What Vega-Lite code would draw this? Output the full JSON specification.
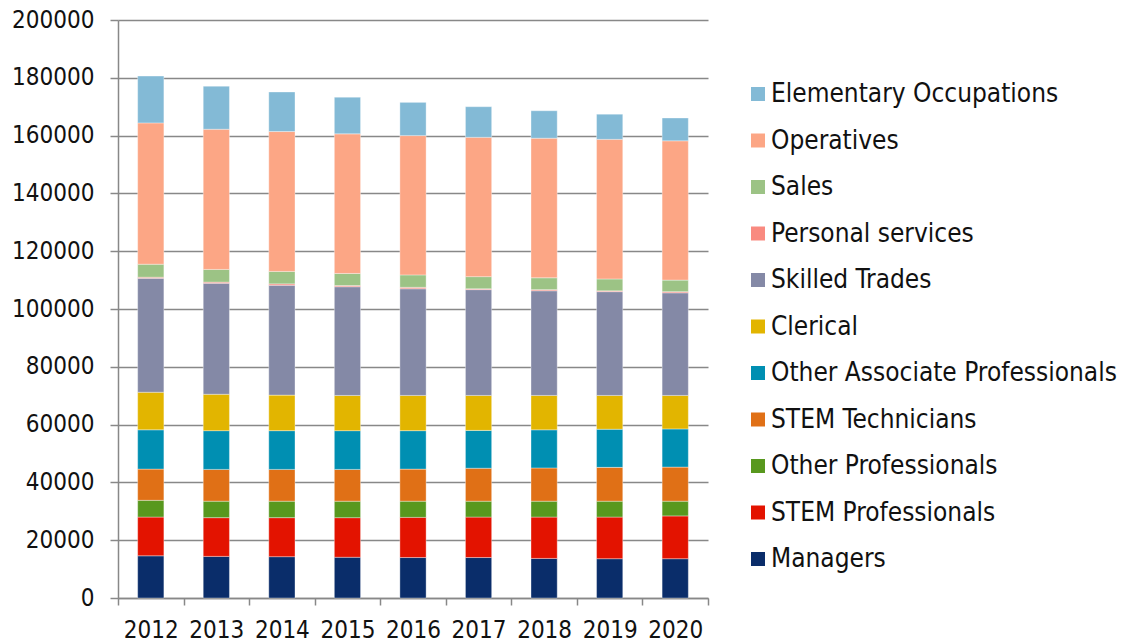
{
  "$schema": "https://vega.github.io/schema/vega-lite/v6.json",
  "width": 590,
  "height": 578,
  "autosize": {"type": "none"},
  "padding": {"left": 118, "top": 20, "right": 417, "bottom": 45},
  "background": "white",
  "config": {
    "font": "DejaVu Sans Condensed, Open Sans, sans-serif",
    "view": {"stroke": null}
  },
  "data": {
    "values": [
      {"year": "2012", "occupation": "Managers", "value": 14600},
      {"year": "2012", "occupation": "STEM Professionals", "value": 13400},
      {"year": "2012", "occupation": "Other Professionals", "value": 5800},
      {"year": "2012", "occupation": "STEM Technicians", "value": 10800},
      {"year": "2012", "occupation": "Other Associate Professionals", "value": 13600},
      {"year": "2012", "occupation": "Clerical", "value": 13000},
      {"year": "2012", "occupation": "Skilled Trades", "value": 39400},
      {"year": "2012", "occupation": "Personal services", "value": 400},
      {"year": "2012", "occupation": "Sales", "value": 4500},
      {"year": "2012", "occupation": "Operatives", "value": 48900},
      {"year": "2012", "occupation": "Elementary Occupations", "value": 16200},
      {"year": "2013", "occupation": "Managers", "value": 14400},
      {"year": "2013", "occupation": "STEM Professionals", "value": 13400},
      {"year": "2013", "occupation": "Other Professionals", "value": 5700},
      {"year": "2013", "occupation": "STEM Technicians", "value": 11000},
      {"year": "2013", "occupation": "Other Associate Professionals", "value": 13400},
      {"year": "2013", "occupation": "Clerical", "value": 12600},
      {"year": "2013", "occupation": "Skilled Trades", "value": 38400},
      {"year": "2013", "occupation": "Personal services", "value": 400},
      {"year": "2013", "occupation": "Sales", "value": 4400},
      {"year": "2013", "occupation": "Operatives", "value": 48500},
      {"year": "2013", "occupation": "Elementary Occupations", "value": 14900},
      {"year": "2014", "occupation": "Managers", "value": 14300},
      {"year": "2014", "occupation": "STEM Professionals", "value": 13500},
      {"year": "2014", "occupation": "Other Professionals", "value": 5700},
      {"year": "2014", "occupation": "STEM Technicians", "value": 11000},
      {"year": "2014", "occupation": "Other Associate Professionals", "value": 13400},
      {"year": "2014", "occupation": "Clerical", "value": 12300},
      {"year": "2014", "occupation": "Skilled Trades", "value": 38000},
      {"year": "2014", "occupation": "Personal services", "value": 500},
      {"year": "2014", "occupation": "Sales", "value": 4300},
      {"year": "2014", "occupation": "Operatives", "value": 48400},
      {"year": "2014", "occupation": "Elementary Occupations", "value": 13700},
      {"year": "2015", "occupation": "Managers", "value": 14100},
      {"year": "2015", "occupation": "STEM Professionals", "value": 13700},
      {"year": "2015", "occupation": "Other Professionals", "value": 5700},
      {"year": "2015", "occupation": "STEM Technicians", "value": 11000},
      {"year": "2015", "occupation": "Other Associate Professionals", "value": 13400},
      {"year": "2015", "occupation": "Clerical", "value": 12200},
      {"year": "2015", "occupation": "Skilled Trades", "value": 37600},
      {"year": "2015", "occupation": "Personal services", "value": 400},
      {"year": "2015", "occupation": "Sales", "value": 4200},
      {"year": "2015", "occupation": "Operatives", "value": 48300},
      {"year": "2015", "occupation": "Elementary Occupations", "value": 12700},
      {"year": "2016", "occupation": "Managers", "value": 14000},
      {"year": "2016", "occupation": "STEM Professionals", "value": 13900},
      {"year": "2016", "occupation": "Other Professionals", "value": 5600},
      {"year": "2016", "occupation": "STEM Technicians", "value": 11100},
      {"year": "2016", "occupation": "Other Associate Professionals", "value": 13300},
      {"year": "2016", "occupation": "Clerical", "value": 12200},
      {"year": "2016", "occupation": "Skilled Trades", "value": 36900},
      {"year": "2016", "occupation": "Personal services", "value": 500},
      {"year": "2016", "occupation": "Sales", "value": 4300},
      {"year": "2016", "occupation": "Operatives", "value": 48200},
      {"year": "2016", "occupation": "Elementary Occupations", "value": 11500},
      {"year": "2017", "occupation": "Managers", "value": 14000},
      {"year": "2017", "occupation": "STEM Professionals", "value": 14000},
      {"year": "2017", "occupation": "Other Professionals", "value": 5500},
      {"year": "2017", "occupation": "STEM Technicians", "value": 11400},
      {"year": "2017", "occupation": "Other Associate Professionals", "value": 13100},
      {"year": "2017", "occupation": "Clerical", "value": 12100},
      {"year": "2017", "occupation": "Skilled Trades", "value": 36600},
      {"year": "2017", "occupation": "Personal services", "value": 300},
      {"year": "2017", "occupation": "Sales", "value": 4200},
      {"year": "2017", "occupation": "Operatives", "value": 48200},
      {"year": "2017", "occupation": "Elementary Occupations", "value": 10600},
      {"year": "2018", "occupation": "Managers", "value": 13700},
      {"year": "2018", "occupation": "STEM Professionals", "value": 14300},
      {"year": "2018", "occupation": "Other Professionals", "value": 5500},
      {"year": "2018", "occupation": "STEM Technicians", "value": 11500},
      {"year": "2018", "occupation": "Other Associate Professionals", "value": 13200},
      {"year": "2018", "occupation": "Clerical", "value": 11900},
      {"year": "2018", "occupation": "Skilled Trades", "value": 36200},
      {"year": "2018", "occupation": "Personal services", "value": 400},
      {"year": "2018", "occupation": "Sales", "value": 4100},
      {"year": "2018", "occupation": "Operatives", "value": 48300},
      {"year": "2018", "occupation": "Elementary Occupations", "value": 9500},
      {"year": "2019", "occupation": "Managers", "value": 13600},
      {"year": "2019", "occupation": "STEM Professionals", "value": 14400},
      {"year": "2019", "occupation": "Other Professionals", "value": 5500},
      {"year": "2019", "occupation": "STEM Technicians", "value": 11700},
      {"year": "2019", "occupation": "Other Associate Professionals", "value": 13200},
      {"year": "2019", "occupation": "Clerical", "value": 11700},
      {"year": "2019", "occupation": "Skilled Trades", "value": 35900},
      {"year": "2019", "occupation": "Personal services", "value": 300},
      {"year": "2019", "occupation": "Sales", "value": 4100},
      {"year": "2019", "occupation": "Operatives", "value": 48300},
      {"year": "2019", "occupation": "Elementary Occupations", "value": 8700},
      {"year": "2020", "occupation": "Managers", "value": 13600},
      {"year": "2020", "occupation": "STEM Professionals", "value": 14800},
      {"year": "2020", "occupation": "Other Professionals", "value": 5100},
      {"year": "2020", "occupation": "STEM Technicians", "value": 11800},
      {"year": "2020", "occupation": "Other Associate Professionals", "value": 13200},
      {"year": "2020", "occupation": "Clerical", "value": 11600},
      {"year": "2020", "occupation": "Skilled Trades", "value": 35500},
      {"year": "2020", "occupation": "Personal services", "value": 400},
      {"year": "2020", "occupation": "Sales", "value": 4000},
      {"year": "2020", "occupation": "Operatives", "value": 48200},
      {"year": "2020", "occupation": "Elementary Occupations", "value": 7900}
    ]
  },
  "transform": [
    {"calculate": "indexof(['Managers', 'STEM Professionals', 'Other Professionals', 'STEM Technicians', 'Other Associate Professionals', 'Clerical', 'Skilled Trades', 'Personal services', 'Sales', 'Operatives', 'Elementary Occupations'], datum.occupation)", "as": "stackIndex"}
  ],
  "mark": {"type": "bar", "width": {"band": 0.4}, "stroke": "white", "strokeWidth": 0.6, "strokeOpacity": 0.6},
  "encoding": {
    "x": {
      "field": "year",
      "type": "ordinal",
      "scale": {"paddingInner": 0, "paddingOuter": 0},
      "axis": {
        "title": null,
        "labelAngle": 0,
        "labelFontSize": 24,
        "labelColor": "#111111",
        "labelPadding": 13,
        "tickBand": "extent",
        "tickSize": 7,
        "tickColor": "#888888",
        "tickWidth": 1.5,
        "domainColor": "#888888",
        "domainWidth": 1.5,
        "grid": false
      }
    },
    "y": {
      "field": "value",
      "type": "quantitative",
      "stack": "zero",
      "scale": {"domain": [0, 200000], "nice": false},
      "axis": {
        "title": null,
        "values": [0, 20000, 40000, 60000, 80000, 100000, 120000, 140000, 160000, 180000, 200000],
        "format": "d",
        "labelFontSize": 24,
        "labelColor": "#111111",
        "labelPadding": 16,
        "tickSize": 8,
        "tickColor": "#888888",
        "tickWidth": 1.5,
        "domainColor": "#888888",
        "domainWidth": 1.5,
        "grid": true,
        "gridColor": "#888888",
        "gridWidth": 1.5
      }
    },
    "order": {"field": "stackIndex", "type": "quantitative", "sort": "ascending"},
    "color": {
      "field": "occupation",
      "type": "nominal",
      "scale": {
        "domain": ["Managers", "STEM Professionals", "Other Professionals", "STEM Technicians", "Other Associate Professionals", "Clerical", "Skilled Trades", "Personal services", "Sales", "Operatives", "Elementary Occupations"],
        "range": ["#0a2d6a", "#e31300", "#58981e", "#e07016", "#008fb2", "#e2b500", "#8489a6", "#f98a80", "#9cc385", "#fca685", "#83bad6"]
      },
      "legend": {
        "title": null,
        "orient": "none",
        "legendX": 627,
        "legendY": 61,
        "values": ["Elementary Occupations", "Operatives", "Sales", "Personal services", "Skilled Trades", "Clerical", "Other Associate Professionals", "STEM Technicians", "Other Professionals", "STEM Professionals", "Managers"],
        "symbolType": "square",
        "symbolSize": 196,
        "symbolStrokeWidth": 0,
        "labelFontSize": 26,
        "labelColor": "#111111",
        "labelOffset": 0,
        "labelLimit": 400,
        "rowPadding": 20.5
      }
    }
  }
}
